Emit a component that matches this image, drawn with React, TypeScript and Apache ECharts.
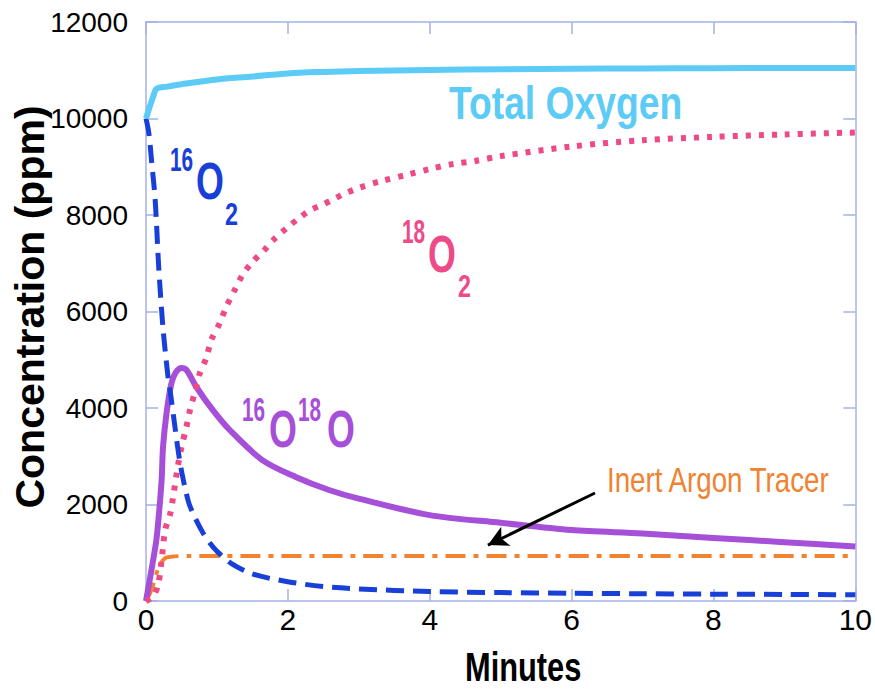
import React, { useEffect, useRef } from "react";
import * as echarts from "echarts";

// ---- Data (minutes vs ppm) ----
const totalX = [0, 0.1, 0.15, 0.3, 0.5, 0.75, 1, 1.5, 2, 2.5, 3, 4, 5, 6, 7, 8, 9, 10];
const totalY = [10000, 10450, 10620, 10660, 10710, 10760, 10810, 10870, 10935, 10965, 10985, 11005, 11020, 11030, 11038, 11044, 11046, 11048];

const o16X = [0, 0.04, 0.08, 0.13, 0.18, 0.24, 0.31, 0.35, 0.4, 0.45, 0.5, 0.6, 0.7, 0.8, 0.9, 1.0, 1.2, 1.5, 2, 2.5, 3, 4, 5, 6, 7, 8, 9, 10];
const o16Y = [10000, 9700, 9100, 8300, 6900, 5650, 4650, 4250, 3700, 3150, 2700, 2050, 1700, 1420, 1200, 1030, 780, 560, 400, 300, 250, 195, 175, 160, 150, 142, 136, 130];

const o18X = [0, 0.1, 0.17, 0.22, 0.27, 0.34, 0.38, 0.45, 0.5, 0.57, 0.62, 0.69, 0.76, 0.85, 0.92, 1.04, 1.13, 1.25, 1.36, 1.5, 1.67, 1.81, 2, 2.16, 2.32, 2.5, 2.65, 2.82, 3, 3.32, 3.67, 4, 4.33, 4.64, 5, 6, 7, 8, 9, 10];
const o18Y = [0, 100, 330, 850, 1470, 1800, 2135, 2800, 3190, 3606, 3958, 4330, 4725, 5036, 5409, 5760, 6093, 6445, 6756, 7026, 7275, 7503, 7751, 7938, 8104, 8220, 8332, 8456, 8560, 8705, 8829, 8953, 9057, 9119, 9220, 9420, 9550, 9620, 9670, 9710];

const mixX = [0, 0.14, 0.17, 0.22, 0.24, 0.29, 0.36, 0.42, 0.5, 0.57, 0.71, 0.94, 1.18, 1.64, 2.11, 2.58, 3, 4, 5, 6, 7, 8, 9, 10];
const mixY = [0, 1200, 1600, 2500, 3190, 3900, 4520, 4740, 4830, 4790, 4435, 3960, 3544, 2920, 2570, 2300, 2120, 1780, 1620, 1470, 1400, 1306, 1220, 1130];

const arX = [0, 0.05, 0.1, 0.15, 0.2, 0.27, 0.35, 0.45, 0.6, 1, 10];
const arY = [0, 140, 330, 580, 760, 890, 915, 930, 935, 935, 930];

const arrowFrom = [6.33, 2238];
const arrowTo = [4.82, 1160];

const xMin = 0, xMax = 10, xStep = 2;
const yMin = 0, yMax = 12000, yStep = 2000;

const C_TOTAL = "#5ccbf6";
const C_O16 = "#1840d8";
const C_O18 = "#ee4a88";
const C_MIX = "#a64fd8";
const C_AR = "#f08230";
const C_AXIS = "#a3b0ea";
const FONT = '"Liberation Sans", Arial, sans-serif';

const pairs = (xs: number[], ys: number[]) => xs.map((x, i) => [x, ys[i]]);

function txt(x: number, y: number, text: string, size: number, color: string, scaleX: number, weight = "bold") {
  return {
    type: "text",
    x,
    y,
    scaleX,
    silent: true,
    style: {
      text,
      x: 0,
      y: 0,
      fill: color,
      font: `${weight} ${size}px ${FONT}`,
      align: "left",
      verticalAlign: "middle",
      textAlign: "left",
      textVerticalAlign: "middle",
    },
  };
}

export default function App() {
  const ref = useRef<HTMLDivElement>(null);
  useEffect(() => {
    if (!ref.current) return;
    const chart = echarts.init(ref.current, undefined, { renderer: "svg" });
    const axisCommon = {
      type: "value",
      axisLine: { show: true, onZero: false, lineStyle: { color: C_AXIS, width: 1.5 } },
      axisTick: { show: true, inside: true, length: 12, lineStyle: { color: C_AXIS, width: 1.5 } },
      splitLine: { show: false },
    };
    const line = (name: string, data: number[][], color: string, width: number, type: any, z: number) => ({
      name,
      type: "line",
      data,
      showSymbol: false,
      symbol: "none",
      smooth: 0.3,
      z,
      lineStyle: { color, width, type, cap: "butt", join: "round" },
    });
    chart.setOption({
      animation: false,
      backgroundColor: "#ffffff",
      grid: { left: 146, right: 15, top: 22, bottom: 90, containLabel: false },
      xAxis: [
        {
          ...axisCommon,
          position: "bottom",
          min: xMin,
          max: xMax,
          interval: xStep,
          axisLabel: { show: true, color: "#000", fontSize: 30, fontFamily: FONT, margin: 3 },
        },
        {
          ...axisCommon,
          position: "top",
          min: xMin,
          max: xMax,
          interval: xStep,
          axisLabel: { show: false },
        },
      ],
      yAxis: [
        {
          ...axisCommon,
          position: "left",
          min: yMin,
          max: yMax,
          interval: yStep,
          axisLabel: {
            show: true,
            color: "#000",
            fontSize: 28,
            fontFamily: FONT,
            margin: 18,
            formatter: (v: number) => String(v),
          },
        },
        {
          ...axisCommon,
          position: "right",
          min: yMin,
          max: yMax,
          interval: yStep,
          axisLabel: { show: false },
        },
      ],
      series: [
        {
          ...line("Inert Argon Tracer", pairs(arX, arY), C_AR, 4, [20, 8, 5, 8], 2),
          markLine: {
            silent: true,
            symbol: ["none", "arrow"],
            symbolSize: [16, 20],
            label: { show: false },
            lineStyle: { color: "#000", width: 3, type: "solid" },
            data: [[{ coord: arrowFrom }, { coord: arrowTo }]],
          },
        },
        line("16O18O", pairs(mixX, mixY), C_MIX, 6, "solid", 3),
        line("18O2", pairs(o18X, o18Y), C_O18, 6, [5, 8], 4),
        line("16O2", pairs(o16X, o16Y), C_O16, 5, [18, 9], 5),
        line("Total Oxygen", pairs(totalX, totalY), C_TOTAL, 6, "solid", 6),
      ],
      graphic: [
        {
          type: "text",
          x: 30,
          y: 307,
          rotation: Math.PI / 2,
          silent: true,
          style: {
            text: "Concentration (ppm)",
            fill: "#000",
            font: `bold 41px ${FONT}`,
            align: "center",
            verticalAlign: "middle",
            textAlign: "center",
            textVerticalAlign: "middle",
          },
        },
        txt(465, 668, "Minutes", 40, "#000", 0.77),
        txt(449, 103, "Total Oxygen", 46, C_TOTAL, 0.81),
        // 16O2
        txt(170, 160, "16", 33, C_O16, 0.63),
        txt(196, 181, "O", 52, C_O16, 0.69),
        txt(225, 214, "2", 32, C_O16, 0.73),
        // 18O2
        txt(402, 232, "18", 33, C_O18, 0.63),
        txt(428, 254, "O", 52, C_O18, 0.69),
        txt(458, 286, "2", 32, C_O18, 0.73),
        // 16O18O
        txt(242, 410, "16", 33, C_MIX, 0.63),
        txt(269, 429, "O", 52, C_MIX, 0.69),
        txt(298, 410, "18", 33, C_MIX, 0.63),
        txt(327, 429, "O", 52, C_MIX, 0.69),
        // Argon label
        txt(607, 480, "Inert Argon Tracer", 36, C_AR, 0.77, "normal"),
      ],
    });
    return () => chart.dispose();
  }, []);
  return (
    <div
      ref={ref}
      style={{ position: "fixed", left: 0, top: 0, width: 875, height: 691, background: "#fff" }}
    />
  );
}
